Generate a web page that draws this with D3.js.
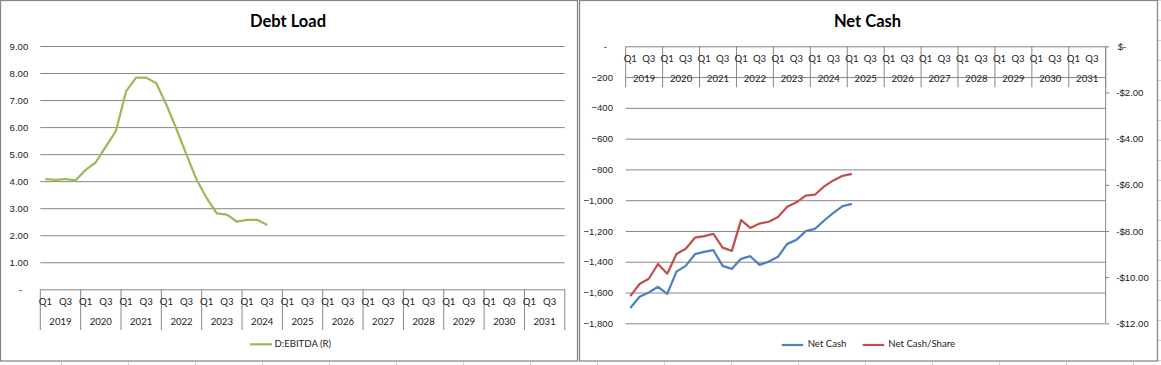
<!DOCTYPE html>
<html><head><meta charset="utf-8">
<script src="https://cdn.jsdelivr.net/npm/d3@7"></script>
<style>
html,body{margin:0;padding:0;background:#fff;}
svg{display:block;font-family:Lato,"Open Sans",sans-serif;}
</style></head>
<body>
<svg id="c" width="1161" height="365"></svg>
<script>
// ---- data ----
const years = ["2019","2020","2021","2022","2023","2024","2025","2026","2027","2028","2029","2030","2031"];
const quarters = ["Q1","Q2","Q3","Q4"];
const debtTicks = [0,1,2,3,4,5,6,7,8,9];
const cashTicks = [0,-200,-400,-600,-800,-1000,-1200,-1400,-1600,-1800];
const shareTicks = [0,-2,-4,-6,-8,-10,-12];
const debtEbitda = [4.08,4.05,4.08,4.03,4.42,4.70,5.28,5.86,7.32,7.83,7.83,7.62,6.83,5.93,4.97,4.05,3.37,2.81,2.76,2.50,2.57,2.57,2.38];
const netCash = [-1700,-1628,-1600,-1563,-1609,-1464,-1427,-1351,-1336,-1325,-1427,-1446,-1381,-1364,-1420,-1399,-1368,-1284,-1258,-1201,-1186,-1132,-1082,-1039,-1024];
const netCashShare = [-10.82,-10.30,-10.07,-9.43,-9.85,-9.00,-8.77,-8.29,-8.22,-8.13,-8.72,-8.86,-7.53,-7.87,-7.68,-7.60,-7.40,-6.95,-6.76,-6.47,-6.43,-6.07,-5.81,-5.61,-5.53];

const categories = [];
years.forEach(y => quarters.forEach(q => categories.push(y + " " + q)));

const svg = d3.select("#c");
const GRID = "#878787", TXT = "#222", FS = "9.6px";
const GREEN = "#9BBB59", BLUE = "#4F81BD", RED = "#C0504D";

// background spreadsheet cell lines
const bg = svg.append("g").attr("stroke", "#d4d4d4").attr("stroke-width", 1);
for (let x = 60.5; x < 1161; x += 67.05) bg.append("line").attr("x1", Math.round(x)+0.5).attr("x2", Math.round(x)+0.5).attr("y1", 362).attr("y2", 365);
for (let y = 0; y < 365; y += 20) bg.append("line").attr("x1", 1158).attr("x2", 1161).attr("y1", y+0.5).attr("y2", y+0.5);

// panels
svg.append("rect").attr("x", 0.5).attr("y", 0.5).attr("width", 577).attr("height", 360.5)
  .attr("fill", "#fff").attr("stroke", GRID).attr("stroke-width", 1.3);
svg.append("rect").attr("x", 579.5).attr("y", 0.5).attr("width", 578).attr("height", 360.5)
  .attr("fill", "#fff").attr("stroke", GRID).attr("stroke-width", 1.3);

function title(x, t) {
  svg.append("text").attr("x", x).attr("y", 26.5).attr("text-anchor", "middle")
    .attr("font-size", "16.5px").attr("font-weight", "bold").attr("fill", "#000").text(t);
}

function catAxis(g, x, yTop, qY, yrY, yBot) {
  // dividers
  const bw = x.bandwidth();
  for (let i = 0; i <= years.length; i++) {
    const xx = x.range()[0] + i * bw * 4;
    g.append("line").attr("x1", xx).attr("x2", xx).attr("y1", yTop).attr("y2", yBot)
      .attr("stroke", GRID).attr("stroke-width", 1);
  }
  categories.forEach((c, i) => {
    if (i % 2 === 0) {
      g.append("text").attr("x", x(c) + bw / 2).attr("y", qY).attr("text-anchor", "middle")
        .attr("dominant-baseline", "middle").attr("font-size", FS).attr("fill", TXT)
        .text(quarters[i % 4]);
    }
  });
  years.forEach((y, i) => {
    g.append("text").attr("x", x(y + " Q1") + bw * 2).attr("y", yrY).attr("text-anchor", "middle")
      .attr("dominant-baseline", "middle").attr("font-size", FS).attr("fill", TXT).text(y);
  });
}

// ---------- Left: Debt Load ----------
{
  title(288, "Debt Load");
  const x = d3.scaleBand().domain(categories).range([40.3, 564.8]);
  const y = d3.scaleLinear().domain([0, 9]).range([289.3, 46]);
  const g = svg.append("g");
  const ax = g.append("g").attr("transform", "translate(40.3,0)")
    .call(d3.axisLeft(y).tickValues(debtTicks).tickSize(-(564.8 - 40.3)).tickPadding(12)
      .tickFormat(d => d === 0 ? "-" : d3.format(".2f")(d)));
  ax.select(".domain").remove();
  ax.selectAll(".tick line").attr("stroke", GRID).attr("stroke-width", 1);
  ax.selectAll(".tick text").attr("font-size", FS).attr("fill", TXT).attr("font-family", null)
    .attr("dx", d => d === 0 ? -6 : 0);
  catAxis(g, x, 289.3, 302.7, 322.7, 330);
  const line = d3.line().x((d, i) => x(categories[i]) + x.bandwidth() / 2).y(d => y(d));
  g.append("path").datum(debtEbitda).attr("d", line).attr("fill", "none")
    .attr("stroke", GREEN).attr("stroke-width", 2.25).attr("stroke-linejoin", "round");
  // legend
  g.append("line").attr("x1", 250).attr("x2", 272).attr("y1", 344.3).attr("y2", 344.3)
    .attr("stroke", GREEN).attr("stroke-width", 2.25);
  g.append("text").attr("x", 274.5).attr("y", 344.3).attr("dominant-baseline", "middle")
    .attr("font-size", FS).attr("fill", TXT).text("D:EBITDA (R)");
}

// ---------- Right: Net Cash ----------
{
  title(867.5, "Net Cash");
  const x0 = 625.7, x1 = 1105.7;
  const x = d3.scaleBand().domain(categories).range([x0, x1]);
  const yL = d3.scaleLinear().domain([-1800, 0]).range([323.3, 46.3]);
  const yR = d3.scaleLinear().domain([-12, 0]).range([323.3, 46.3]);
  const g = svg.append("g");
  const axL = g.append("g").attr("transform", `translate(${x0},0)`)
    .call(d3.axisLeft(yL).tickValues(cashTicks).tickSize(-(x1 - x0)).tickPadding(12.7)
      .tickFormat(d => d === 0 ? "-" : d3.format(",")(d)));
  axL.select(".domain").remove();
  axL.selectAll(".tick line").attr("stroke", GRID).attr("stroke-width", 1);
  axL.selectAll(".tick text").attr("font-size", FS).attr("fill", TXT).attr("font-family", null)
    .attr("dx", d => d === 0 ? -6 : 0);
  const axR = g.append("g").attr("transform", `translate(${x1},0)`)
    .call(d3.axisRight(yR).tickValues(shareTicks).tickSize(3.5).tickPadding(7)
      .tickFormat(d => d === 0 ? "$-" : "-$" + d3.format(".2f")(Math.abs(d))));
  axR.select(".domain").attr("stroke", GRID).attr("stroke-width", 1)
    .attr("d", `M0,${yR(0)}V${yR(-12)}`);
  axR.selectAll(".tick line").attr("stroke", GRID).attr("stroke-width", 1);
  axR.selectAll(".tick text").attr("font-size", FS).attr("fill", TXT).attr("font-family", null)
    .attr("dx", d => d === 0 ? 1.5 : 0);
  catAxis(g, x, 46.3, 59.3, 80, 87.3);
  const cx = (d, i) => x(categories[i]) + x.bandwidth() / 2;
  g.append("path").datum(netCash).attr("d", d3.line().x(cx).y(d => yL(d))).attr("fill", "none")
    .attr("stroke", BLUE).attr("stroke-width", 2.25).attr("stroke-linejoin", "round");
  g.append("path").datum(netCashShare).attr("d", d3.line().x(cx).y(d => yR(d))).attr("fill", "none")
    .attr("stroke", RED).attr("stroke-width", 2.25).attr("stroke-linejoin", "round");
  // legend
  const leg = [["Net Cash", BLUE, 781.7, 807.7], ["Net Cash/Share", RED, 862.7, 888.3]];
  leg.forEach(([t, c, lx, tx]) => {
    g.append("line").attr("x1", lx).attr("x2", lx + 21.5).attr("y1", 345).attr("y2", 345)
      .attr("stroke", c).attr("stroke-width", 2.25);
    g.append("text").attr("x", tx).attr("y", 345).attr("dominant-baseline", "middle")
      .attr("font-size", FS).attr("fill", TXT).text(t);
  });
}
</script>
</body></html>
